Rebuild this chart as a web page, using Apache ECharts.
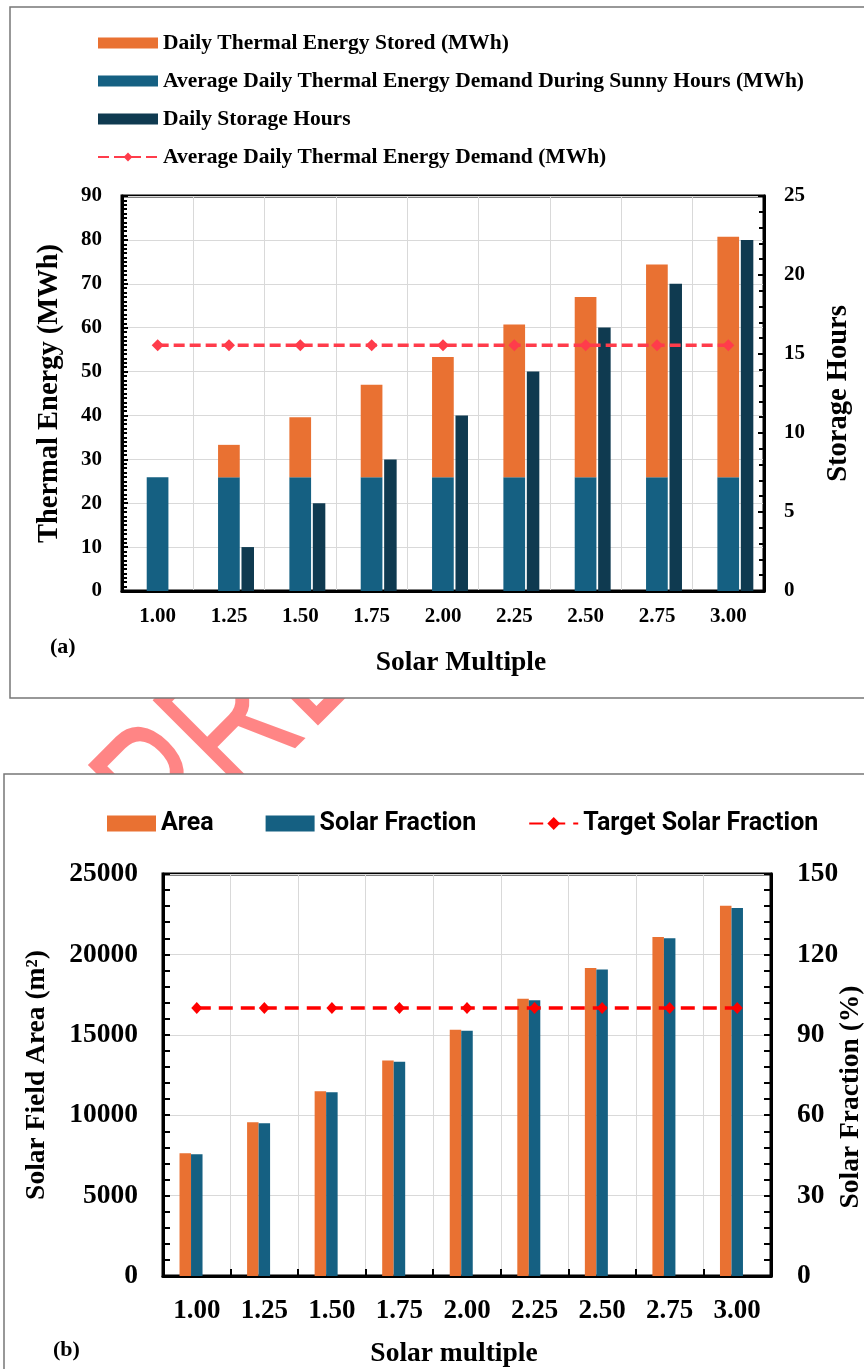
<!DOCTYPE html>
<html><head><meta charset="utf-8">
<script src="https://cdn.jsdelivr.net/npm/echarts@6/dist/echarts.min.js"></script>
<style>html,body{margin:0;padding:0;background:#fff}#c{width:864px;height:1369px}</style>
</head><body><div id="c"></div>
<script>
// ---- data ----
const categories = ['1.00','1.25','1.50','1.75','2.00','2.25','2.50','2.75','3.00'];
// panel (a)
const demandSunny = [25.9, 25.9, 25.9, 25.9, 25.9, 25.9, 25.9, 25.9, 25.9];
const storedEnergy = [0, 7.4, 13.7, 21.1, 27.4, 34.8, 41.1, 48.5, 54.8];
const storageHours = [0, 2.78, 5.56, 8.33, 11.11, 13.89, 16.67, 19.44, 22.22];
const avgDemand = [56, 56, 56, 56, 56, 56, 56, 56, 56];
// panel (b)
const area = [7640, 9560, 11490, 13400, 15310, 17240, 19150, 21080, 23020];
const solarFraction = [45.4, 57.0, 68.6, 79.9, 91.5, 102.9, 114.4, 126.0, 137.3];
const targetFraction = [100, 100, 100, 100, 100, 100, 100, 100, 100];
const emptySlot = ['-', '-', '-', '-', '-', '-', '-', '-', '-'];

const serif = 'Liberation Serif';
const bold = (size) => ({fontFamily: serif, fontWeight: 'bold', fontSize: size, color: '#000'});
const gridLine = {show: true, lineStyle: {color: '#d9d9d9', width: 1}};
const axisLine = {show: true, onZero: false, lineStyle: {color: '#000', width: 3}};
const plain = (v) => String(v);

const chart = echarts.init(document.getElementById('c'), null, {renderer: 'canvas'});
chart.setOption({
  animation: false,
  backgroundColor: '#fff',
  graphic: [
    {type: 'text', z: -3, x: 137, y: 830, rotation: Math.PI / 4, scaleX: 0.7,
     style: {text: 'PREPRINT', fontFamily: 'Liberation Sans', fontSize: 196, fill: 'rgba(255,0,0,0.48)', align: 'left', verticalAlign: 'middle'}},
    {type: 'rect', z: -2, shape: {x: 10, y: 7, width: 880, height: 691},
     style: {fill: '#fff', stroke: '#777', lineWidth: 1.5}},
    {type: 'rect', z: -2, shape: {x: 4, y: 774, width: 890, height: 640},
     style: {fill: '#fff', stroke: '#777', lineWidth: 1.5}},
    {type: 'text', x: 50, y: 647, style: {text: '(a)', fontFamily: serif, fontWeight: 'bold', fontSize: 22, fill: '#000', verticalAlign: 'middle'}},
    {type: 'text', x: 53, y: 1350, style: {text: '(b)', fontFamily: serif, fontWeight: 'bold', fontSize: 22, fill: '#000', verticalAlign: 'middle'}}
  ],
  legend: [
    {orient: 'vertical', left: 92, top: 27, itemWidth: 60, itemHeight: 11, itemGap: 16,
     textStyle: bold(21.5),
     data: [
       {name: 'Daily Thermal Energy Stored (MWh)', icon: 'rect'},
       {name: 'Average Daily Thermal Energy Demand During Sunny Hours (MWh)', icon: 'rect'},
       {name: 'Daily Storage Hours', icon: 'rect'},
       {name: 'Average Daily Thermal Energy Demand (MWh)'}
     ]},
    {orient: 'horizontal', left: 102, top: 806, itemWidth: 49, itemHeight: 16, itemGap: 52,
     textStyle: {fontFamily: 'Roboto', fontWeight: 'bold', fontSize: 25, color: '#000'},
     data: [
       {name: 'Area', icon: 'rect'},
       {name: 'Solar Fraction', icon: 'rect'},
       {name: 'Target Solar Fraction'}
     ]}
  ],
  grid: [
    {left: 122, top: 196, width: 642, height: 395, show: true, borderColor: '#000', borderWidth: 3,
     backgroundColor: 'transparent', outerBoundsMode: 'none', containLabel: false},
    {left: 163, top: 874, width: 608, height: 402, show: true, borderColor: '#000', borderWidth: 3,
     backgroundColor: 'transparent', outerBoundsMode: 'none', containLabel: false}
  ],
  xAxis: [
    {type: 'category', gridIndex: 0, data: categories, axisLine: axisLine, axisTick: {show: false},
     axisLabel: Object.assign({margin: 15}, bold(21)), splitLine: gridLine,
     name: 'Solar Multiple', nameLocation: 'middle', nameGap: 58,
     nameTextStyle: Object.assign({padding: [0, 0, 0, 36]}, bold(27.5))},
    {type: 'category', gridIndex: 1, data: categories, axisLine: axisLine,
     axisTick: {show: true, inside: true, length: 7, lineStyle: {color: '#000', width: 2}},
     axisLabel: Object.assign({margin: 22}, bold(27)), splitLine: gridLine,
     name: 'Solar multiple', nameLocation: 'middle', nameGap: 64,
     nameTextStyle: Object.assign({padding: [0, 26, 0, 0]}, bold(27.5))}
  ],
  yAxis: [
    {type: 'value', gridIndex: 0, position: 'left', min: 0, max: 90, interval: 10,
     axisLine: axisLine, axisTick: {show: true, inside: true, length: 6, lineStyle: {color: '#000', width: 2}},
     minorTick: {show: true, splitNumber: 10, length: 5, lineStyle: {color: '#000', width: 2}},
     axisLabel: Object.assign({margin: 20, formatter: plain}, bold(21)), splitLine: gridLine,
     name: 'Thermal Energy (MWh)', nameLocation: 'middle', nameGap: 58, nameRotate: 90, nameTextStyle: bold(28.5)},
    {type: 'value', gridIndex: 0, position: 'right', min: 0, max: 25, interval: 5,
     axisLine: axisLine, axisTick: {show: true, inside: true, length: 6, lineStyle: {color: '#000', width: 2}},
     minorTick: {show: true, splitNumber: 5, length: 5, lineStyle: {color: '#000', width: 2}},
     axisLabel: Object.assign({margin: 20, formatter: plain}, bold(21)), splitLine: {show: false},
     name: 'Storage Hours', nameLocation: 'middle', nameGap: 60, nameRotate: 90, nameTextStyle: bold(28.5)},
    {type: 'value', gridIndex: 1, position: 'left', min: 0, max: 25000, interval: 5000,
     axisLine: axisLine, axisTick: {show: true, inside: true, length: 7, lineStyle: {color: '#000', width: 2}},
     minorTick: {show: true, splitNumber: 5, length: 7, lineStyle: {color: '#000', width: 2}},
     axisLabel: Object.assign({margin: 25, formatter: plain}, bold(27.5)), splitLine: gridLine,
     name: 'Solar Field Area (m²)', nameLocation: 'middle', nameGap: 112, nameRotate: 90, nameTextStyle: bold(27.5)},
    {type: 'value', gridIndex: 1, position: 'right', min: 0, max: 150, interval: 30,
     axisLine: axisLine, axisTick: {show: true, inside: true, length: 7, lineStyle: {color: '#000', width: 2}},
     minorTick: {show: true, splitNumber: 5, length: 7, lineStyle: {color: '#000', width: 2}},
     axisLabel: Object.assign({margin: 26, formatter: plain}, bold(27.5)), splitLine: {show: false},
     name: 'Solar Fraction (%)', nameLocation: 'middle', nameGap: 66, nameRotate: 90, nameMoveOverlap: false,
     nameTextStyle: Object.assign({padding: [0, 44, 0, 0]}, bold(27.5))}
  ],
  series: [
    {name: 'pad-a', type: 'bar', xAxisIndex: 0, yAxisIndex: 0, barWidth: 13, barGap: '8%', data: emptySlot, silent: true},
    {name: 'Average Daily Thermal Energy Demand During Sunny Hours (MWh)', type: 'bar', stack: 'a',
     xAxisIndex: 0, yAxisIndex: 0, barWidth: 21.7, barGap: '8%', data: demandSunny, itemStyle: {color: '#156082'}},
    {name: 'Daily Thermal Energy Stored (MWh)', type: 'bar', stack: 'a',
     xAxisIndex: 0, yAxisIndex: 0, barWidth: 21.7, barGap: '8%', data: storedEnergy, itemStyle: {color: '#E97132'}},
    {name: 'Daily Storage Hours', type: 'bar', xAxisIndex: 0, yAxisIndex: 1, barWidth: 12.5, barGap: '8%',
     data: storageHours, itemStyle: {color: '#0F3A50'}},
    {name: 'Average Daily Thermal Energy Demand (MWh)', type: 'line', xAxisIndex: 0, yAxisIndex: 0,
     data: avgDemand, symbol: 'diamond', symbolSize: 12, z: 5,
     lineStyle: {color: '#FF3C4B', width: 3.5, type: [11, 5]}, itemStyle: {color: '#FF3C4B'}},

    {name: 'Area', type: 'bar', xAxisIndex: 1, yAxisIndex: 2, barWidth: 11.5, barGap: '0%',
     data: area, itemStyle: {color: '#E97132'}},
    {name: 'Solar Fraction', type: 'bar', xAxisIndex: 1, yAxisIndex: 3, barWidth: 11.5, barGap: '0%',
     data: solarFraction, itemStyle: {color: '#156082'}},
    {name: 'pad-b', type: 'bar', xAxisIndex: 1, yAxisIndex: 2, barWidth: 11.5, barGap: '0%', data: emptySlot, silent: true},
    {name: 'Target Solar Fraction', type: 'line', xAxisIndex: 1, yAxisIndex: 3,
     data: targetFraction, symbol: 'diamond', symbolSize: [11, 12], z: 5,
     lineStyle: {color: '#FF0000', width: 3.5, type: [14, 8]}, itemStyle: {color: '#FF0000'}}
  ]
});
</script></body></html>
